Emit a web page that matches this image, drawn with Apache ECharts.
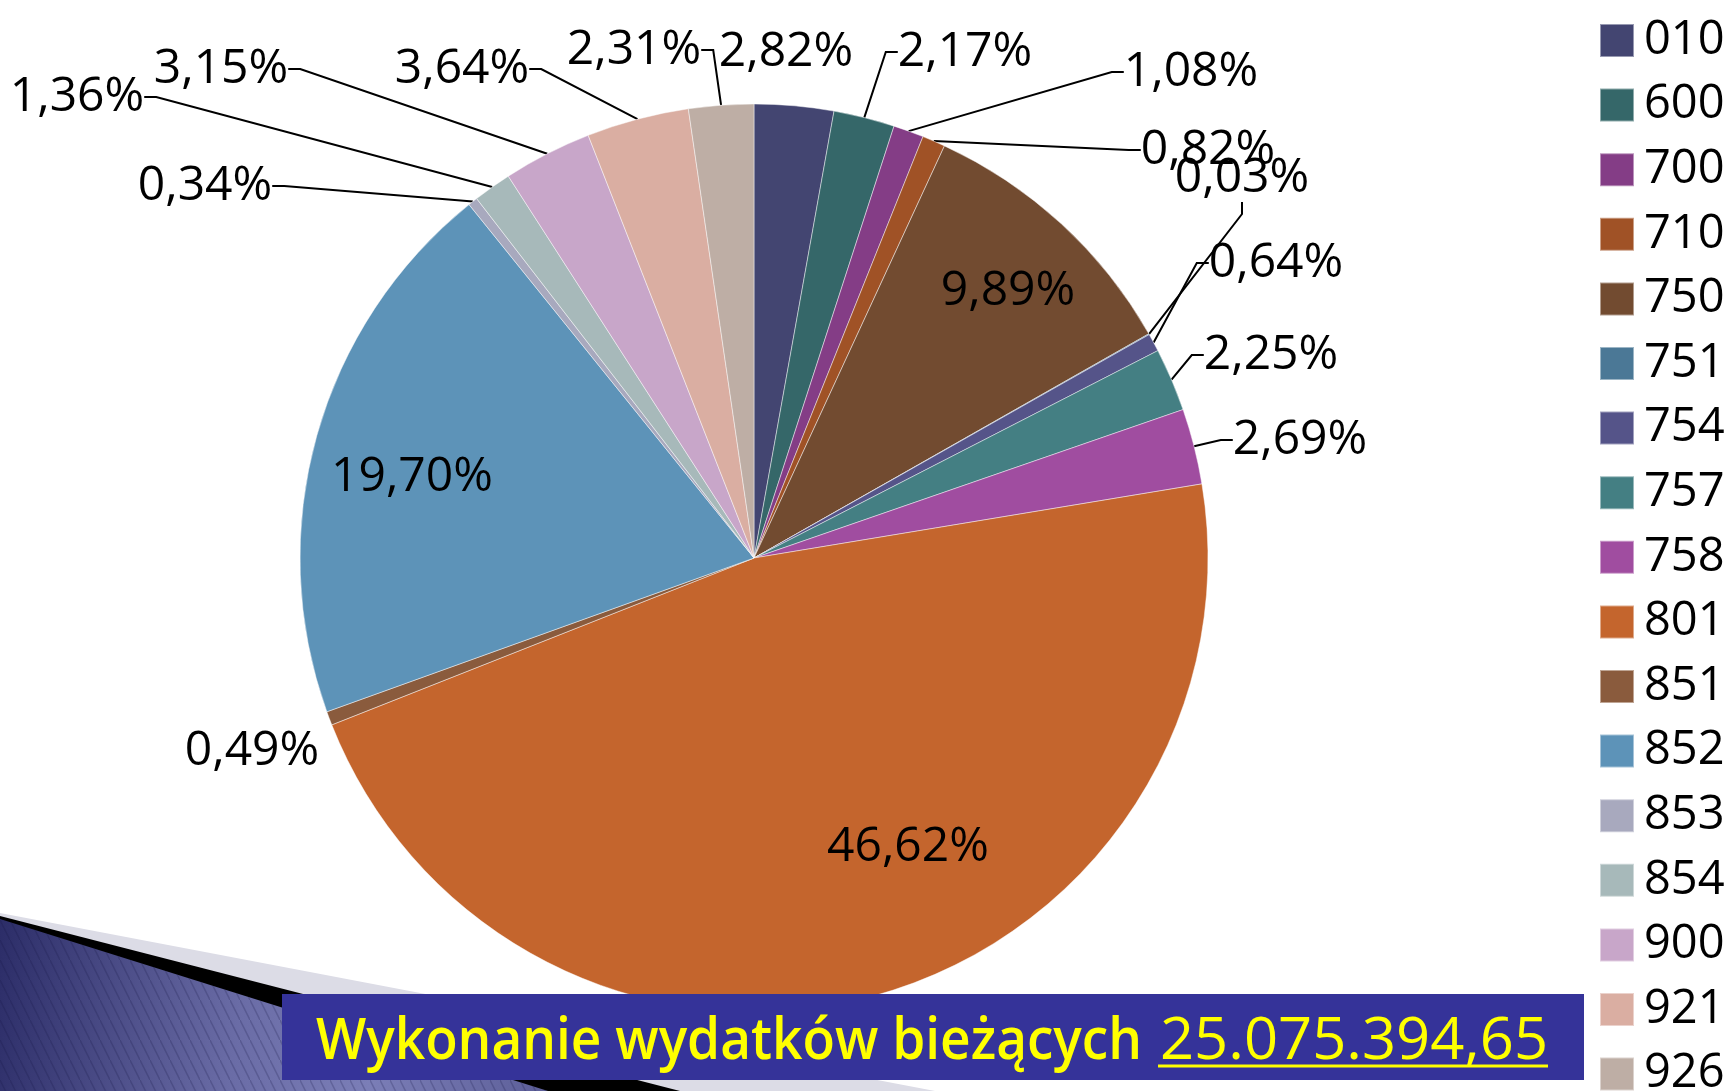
<!DOCTYPE html>
<html>
<head>
<meta charset="utf-8">
<script src="https://cdn.jsdelivr.net/npm/echarts@6/dist/echarts.min.js"></script>
<style>
html, body { margin: 0; padding: 0; background: #fff; }
#chart { width: 1736px; height: 1091px; }
</style>
</head>
<body>
<div id="chart"></div>
<script>
// chapters (działy) and their share of current spending, in %
const categories = ['010','600','700','710','750','751','754','757','758','801','851','852','853','854','900','921','926'];
const shares = [2.82, 2.17, 1.08, 0.82, 9.89, 0.03, 0.64, 2.25, 2.69, 46.62, 0.49, 19.70, 0.34, 1.36, 3.15, 3.64, 2.31];
const sliceColors = ['#434571','#356769','#843D86','#A05226','#724B30','#4B7896','#555489','#447F83','#A04DA0',
                     '#C4652D','#8A5B3D','#5D93B8','#A8A9BE','#A7B9BA','#C8A6C9','#DAAEA2','#BEAEA5'];
const titleText = 'Wykonanie wydatków bieżących';
const totalText = '25.075.394,65';

// where each percentage label sits (text centre, px), as in the slide
const labelPos = [[786,52],[965,52],[1191,72],[1208,150],[1008,291],[1242,178],[1276,263],[1271,355],[1300,440],
                  [908,847],[252,751],[412,477],[205,186],[77,97],[221,69],[462,69],[634,50]];
const noLeader = ['010','750','801','851','852'];

const measure = (text, font) => {
   const ctx = document.createElement('canvas').getContext('2d');
   ctx.font = font;
   return ctx.measureText(text).width;
};

// thin diagonal stripes for the slide decoration
const tile = document.createElement('canvas');
tile.width = 10; tile.height = 20;
const tctx = tile.getContext('2d');
tctx.strokeStyle = 'rgba(25,25,70,0.22)';
tctx.lineWidth = 1.5;
tctx.beginPath(); tctx.moveTo(-1,-2); tctx.lineTo(11,22); tctx.stroke();

const chart = echarts.init(document.getElementById('chart'));

const titleScale = 826 / measure(titleText, '600 58px "Open Sans"');
const totalScale = 388 / measure(totalText, '58px "Open Sans"');

const option = {
   animation: false,
   backgroundColor: '#fff',
   textStyle: { fontFamily: 'Open Sans' },
   legend: {
      orient: 'vertical',
      left: 1594,
      top: 12,
      height: 1100,
      icon: 'rect',
      itemWidth: 34,
      itemHeight: 33,
      itemGap: 17.6,
      selectedMode: false,
      data: categories,
      textStyle: { fontSize: 47, color: '#000', fontFamily: 'Open Sans', padding: [0,0,0,5] }
   },
   series: [{
      type: 'pie',
      center: [754, 558],
      radius: 454,
      startAngle: 90,
      clockwise: true,
      avoidLabelOverlap: false,
      emphasis: { disabled: true },
      itemStyle: { borderColor: 'rgba(255,255,255,0.45)', borderWidth: 1 },
      label: {
         show: true,
         position: 'outside',
         fontSize: 48,
         color: '#000',
         fontFamily: 'Open Sans',
         formatter: (p) => p.value.toFixed(2).replace('.', ',') + '%'
      },
      labelLine: { show: true, length: 10, length2: 12, lineStyle: { color: '#000', width: 2 } },
      labelLayout: (p) => ({
         x: labelPos[p.dataIndex][0],
         y: labelPos[p.dataIndex][1],
         align: 'center',
         verticalAlign: 'middle'
      }),
      data: categories.map((name, i) => ({
         name: name,
         value: shares[i],
         itemStyle: { color: sliceColors[i] },
         labelLine: { show: noLeader.indexOf(name) < 0 }
      }))
   }],
   graphic: [
      { type: 'polygon', z: 10, shape: { points: [[0,913],[935,1091],[0,1091]] }, style: { fill: '#DCDCE6' } },
      { type: 'polygon', z: 11, shape: { points: [[0,916],[680,1091],[0,1091]] }, style: { fill: '#000' } },
      { type: 'polygon', z: 12, shape: { points: [[0,919],[548,1091],[0,1091]] },
        style: { fill: new echarts.graphic.LinearGradient(0, 0, 1, 0.4, [
           { offset: 0, color: '#2C2D68' },
           { offset: 0.45, color: '#6A6CA6' },
           { offset: 0.7, color: '#7B7EB7' },
           { offset: 1, color: '#5E609A' }
        ]) } },
      { type: 'polygon', z: 13, shape: { points: [[0,919],[548,1091],[0,1091]] },
        style: { fill: { image: tile, repeat: 'repeat' } } },
      { type: 'rect', z: 20, shape: { x: 282, y: 994, width: 1302, height: 86 }, style: { fill: '#353399' } },
      { type: 'text', z: 21, x: 316, y: 1042, scaleX: titleScale,
        style: { text: titleText, fill: '#FFFF00', fontSize: 58, fontWeight: 600, fontFamily: 'Open Sans', verticalAlign: 'middle' } },
      { type: 'text', z: 21, x: 1160, y: 1042, scaleX: totalScale,
        style: { text: totalText, fill: '#FFFF00', fontSize: 58, fontFamily: 'Open Sans', verticalAlign: 'middle' } },
      { type: 'line', z: 21, shape: { x1: 1158, y1: 1066, x2: 1548, y2: 1066 }, style: { stroke: '#FFFF00', lineWidth: 3 } }
   ]
};

chart.setOption(option);
</script>
</body>
</html>
